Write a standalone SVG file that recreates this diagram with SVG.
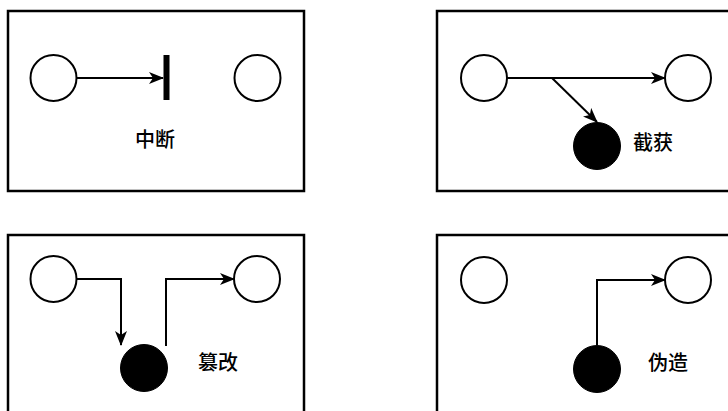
<svg xmlns="http://www.w3.org/2000/svg" width="728" height="411" viewBox="0 0 728 411">
<defs>
<style>
.frame{fill:#fff;stroke:#000;stroke-width:2.5}
.node{fill:#fff;stroke:#000;stroke-width:2}
.attacker{fill:#000;stroke:#000;stroke-width:1}
.edge{fill:none;stroke:#000;stroke-width:2}
.label{font-family:"Noto Sans CJK SC","Noto Sans",sans-serif;font-size:20px;font-weight:500;fill:#000}
</style>
<marker id="arr" viewBox="0 0 15 12" refX="14" refY="6" markerWidth="15" markerHeight="12" markerUnits="userSpaceOnUse" orient="auto">
<path d="M0,0 L15,6 L0,12 L4,6 Z" fill="#000"/>
</marker>
</defs>
<rect width="728" height="411" fill="#fff"/>
<g id="panels">
<rect class="frame" x="8" y="11" width="296" height="180"/>
<rect class="frame" x="437" y="11" width="300" height="180"/>
<rect class="frame" x="8" y="235" width="296" height="190"/>
<rect class="frame" x="437" y="235" width="300" height="190"/>
</g>
<g id="connectors">
<line class="edge" x1="77" y1="78" x2="163" y2="78" marker-end="url(#arr)"/>
<line class="edge" x1="507" y1="78" x2="665" y2="78" marker-end="url(#arr)"/>
<line class="edge" x1="552" y1="78" x2="597" y2="122" marker-end="url(#arr)"/>
<polyline class="edge" points="77,279 121,279 121,345" marker-end="url(#arr)"/>
<polyline class="edge" points="166,346 166,279 234,279" marker-end="url(#arr)"/>
<polyline class="edge" points="597,345 597,280 665,280" marker-end="url(#arr)"/>
</g>
<g id="p1">
<g id="p1-src"><circle class="node" cx="53.5" cy="78" r="23"/></g>
<g id="p1-dst"><circle class="node" cx="257.5" cy="78" r="23"/></g>
<g id="p1-block"><rect x="163.5" y="55" width="6" height="45" fill="#000"/></g>
<g id="p1-label"><text class="label" x="155" y="147" text-anchor="middle">中断</text></g>
</g>
<g id="p2">
<g id="p2-src"><circle class="node" cx="484" cy="78" r="23"/></g>
<g id="p2-dst"><circle class="node" cx="688" cy="78" r="23"/></g>
<g id="p2-att"><circle class="attacker" cx="597" cy="146" r="23.5"/></g>
<g id="p2-label"><text class="label" x="653" y="150" text-anchor="middle">截获</text></g>
</g>
<g id="p3">
<g id="p3-src"><circle class="node" cx="53.5" cy="279" r="23"/></g>
<g id="p3-dst"><circle class="node" cx="257" cy="279" r="23"/></g>
<g id="p3-att"><circle class="attacker" cx="144" cy="368" r="23.5"/></g>
<g id="p3-label"><text class="label" x="218" y="370" text-anchor="middle">篡改</text></g>
</g>
<g id="p4">
<g id="p4-src"><circle class="node" cx="484" cy="280" r="23"/></g>
<g id="p4-dst"><circle class="node" cx="688" cy="280" r="23"/></g>
<g id="p4-att"><circle class="attacker" cx="597" cy="369" r="23.5"/></g>
<g id="p4-label"><text class="label" x="668" y="370" text-anchor="middle">伪造</text></g>
</g>
</svg>
